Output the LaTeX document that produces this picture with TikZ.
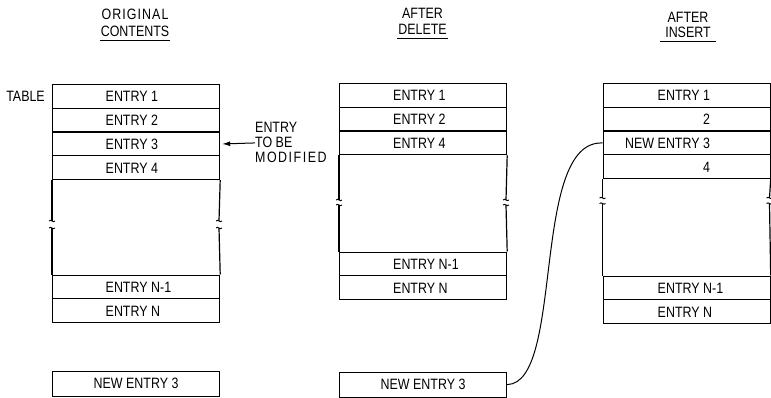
\documentclass[tikz,border=0pt]{standalone}
\usepackage{fontspec}
\setmainfont{Liberation Sans}
\newfontfamily\lf[FakeStretch=0.83]{Liberation Sans}
\newfontfamily\lfsp[FakeStretch=0.83,LetterSpace=7]{Liberation Sans}
\newfontfamily\lfspb[FakeStretch=0.83,LetterSpace=10]{Liberation Sans}
\usetikzlibrary{arrows.meta}
\newcommand\brkmark[2]{\draw[line width=0.9pt] (#1-3,#2) .. controls (#1-1,#2-2.5) and (#1+1,#2+2.5) .. (#1+3,#2);}
\begin{document}
\begin{tikzpicture}[x=1pt,y=-1pt,
  cell/.style={draw, line width=1.2pt, minimum width=167pt, minimum height=23.75pt, inner sep=0pt, anchor=north west},
  newbox/.style={draw, line width=1.2pt, minimum width=167pt, minimum height=25pt, inner sep=0pt, anchor=north west,
     font=\lf\fontsize{15}{15}\selectfont, text height=10.7pt, text depth=0pt},
  txt/.style={inner sep=0pt, font=\lf\fontsize{15}{15}\selectfont, text height=10.7pt, text depth=0pt},
  lbl/.style={inner sep=0pt, font=\lf\fontsize{15}{15}\selectfont},
  ttl/.style={inner sep=0pt, anchor=base, font=\lf\fontsize{15}{15}\selectfont},
  side/.style={line width=1.2pt},
  uline/.style={line width=1pt}]
\useasboundingbox (0,0) rectangle (771,398);

% ---------------- titles
\node[ttl] (T1a) at (135,20) {\lfsp ORIGINAL};
\node[ttl] (T1b) at (135,37) {CONTENTS};
\draw[uline] ([xshift=-1pt,yshift=-4pt]T1b.base west) -- ([xshift=1pt,yshift=-4pt]T1b.base east);
\node[ttl] (T2a) at (422.5,19) {AFTER};
\node[ttl] (T2b) at (422.5,35) {DELETE};
\draw[uline] ([xshift=-1pt,yshift=-4pt]T2b.base west) -- ([xshift=1pt,yshift=-4pt]T2b.base east);
\node[ttl] (T3a) at (688,23) {AFTER};
\node[ttl] (T3b) at (688,38) {INSERT};
\draw[uline] ([xshift=-5pt,yshift=-4pt]T3b.base west) -- ([xshift=5pt,yshift=-4pt]T3b.base east);

% ---------------- original contents
\node[cell] (L1) at (52,84) {};
\node[cell] (L2) at (52,107.75) {};
\node[cell] (L3) at (52,131.5) {};
\node[cell] (L4) at (52,155.25) {};
\node[cell] (L5) at (52,274.5) {};
\node[cell] (L6) at (52,298.25) {};
\draw[side] (L4.south west) -- (52,221);
\draw[side] (L4.south east) -- (219,221);
\draw[side] (52,228) -- (L5.north west);
\draw[side] (219,228) -- (L5.north east);
\brkmark{52}{221}\brkmark{219}{221}\brkmark{52}{228}\brkmark{219}{228}
\node[txt,anchor=west] (Lt1) at ([xshift=53.5pt]L1.west) {ENTRY 1};
\node[txt,anchor=west] (Lt2) at ([xshift=53.5pt]L2.west) {ENTRY 2};
\node[txt,anchor=west] (Lt3) at ([xshift=53.5pt]L3.west) {ENTRY 3};
\node[txt,anchor=west] (Lt4) at ([xshift=53.5pt]L4.west) {ENTRY 4};
\node[txt,anchor=west] (Lt5) at ([xshift=53.5pt]L5.west) {ENTRY N-1};
\node[txt,anchor=west] (Lt6) at ([xshift=53.5pt]L6.west) {ENTRY N};
\node[txt,anchor=east] (tab) at ([xshift=-7pt]L1.west) {TABLE};
\node[lbl,anchor=north west,align=left] (mod) at (255,121.5) {ENTRY\\TO BE\\{\lfspb MODIFIED}};
\draw[line width=1pt,-{Latex[length=8pt,width=5pt]}] ([yshift=-1pt]mod.west) -- ([xshift=2pt]L3.east);
\node[newbox] (Lnew) at (52,370.5) {NEW ENTRY 3};

% ---------------- after delete
\node[cell] (M1) at (339,83) {};
\node[cell] (M2) at (339,106.75) {};
\node[cell] (M3) at (339,130.5) {};
\node[cell] (M4) at (339,251.5) {};
\node[cell] (M5) at (339,275.25) {};
\draw[side] (M3.south west) -- (339,200);
\draw[side] (M3.south east) -- (506,200);
\draw[side] (339,205) -- (M4.north west);
\draw[side] (506,205) -- (M4.north east);
\brkmark{339}{200}\brkmark{506}{200}\brkmark{339}{205}\brkmark{506}{205}
\node[txt,anchor=west] (Mt1) at ([xshift=54pt]M1.west) {ENTRY 1};
\node[txt,anchor=west] (Mt2) at ([xshift=54pt]M2.west) {ENTRY 2};
\node[txt,anchor=west] (Mt3) at ([xshift=54pt]M3.west) {ENTRY 4};
\node[txt,anchor=west] (Mt4) at ([xshift=54pt]M4.west) {ENTRY N-1};
\node[txt,anchor=west] (Mt5) at ([xshift=54pt]M5.west) {ENTRY N};
\node[newbox] (Mnew) at (339,371.5) {NEW ENTRY 3};

% ---------------- after insert
\node[cell] (R1) at (602.5,83) {};
\node[cell] (R2) at (602.5,106.75) {};
\node[cell] (R3) at (602.5,130.5) {};
\node[cell] (R4) at (602.5,154.25) {};
\node[cell] (R5) at (602.5,275.5) {};
\node[cell] (R6) at (602.5,299.25) {};
\draw[side] (R4.south west) -- (602.5,198);
\draw[side] (R4.south east) -- (769.5,198);
\draw[side] (602.5,203.5) -- (R5.north west);
\draw[side] (769.5,203.5) -- (R5.north east);
\brkmark{602.5}{198}\brkmark{769.5}{198}\brkmark{602.5}{203.5}\brkmark{769.5}{203.5}
\node[txt,anchor=west] (Rt1) at ([xshift=55pt]R1.west) {ENTRY 1};
\node[txt,anchor=east] (Rt2) at (Rt1.east |- R2.west) {2};
\node[txt,anchor=east] (Rt3) at (Rt1.east |- R3.west) {NEW ENTRY 3};
\node[txt,anchor=east] (Rt4) at (Rt1.east |- R4.west) {4};
\node[txt,anchor=west] (Rt5) at ([xshift=55pt]R5.west) {ENTRY N-1};
\node[txt,anchor=west] (Rt6) at ([xshift=55pt]R6.west) {ENTRY N};

% ---------------- connector
\draw[line width=1pt] (Mnew.east) .. controls (565,383) and (530,140) .. (R3.west);
\end{tikzpicture}
\end{document}
